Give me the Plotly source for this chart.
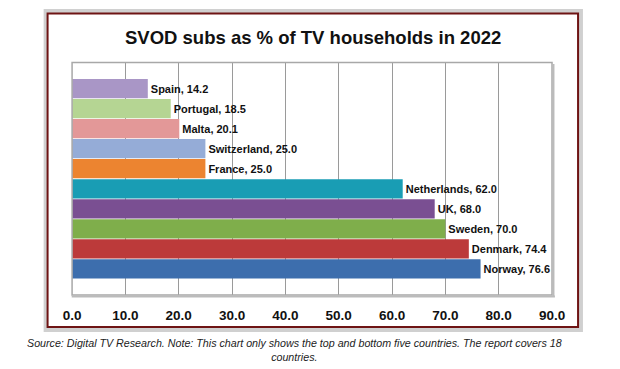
import plotly.graph_objects as go

countries = ["Norway", "Denmark", "Sweden", "UK", "Netherlands",
             "France", "Switzerland", "Malta", "Portugal", "Spain"]
values = [76.6, 74.4, 70.0, 68.0, 62.0, 25.0, 25.0, 20.1, 18.5, 14.2]
colors = ["#3D6EAD", "#BC3A3A", "#7FAE4B", "#7A4F92", "#199DB4",
          "#EC8430", "#95ACD7", "#E39898", "#B5D593", "#A996C6"]
tick_vals = [0, 10, 20, 30, 40, 50, 60, 70, 80, 90]
tick_text = ["0.0", "10.0", "20.0", "30.0", "40.0", "50.0", "60.0", "70.0", "80.0", "90.0"]
title = "SVOD subs as % of TV households in 2022"
source = ("Source: Digital TV Research. Note: This chart only shows the top and bottom five countries. "
          "The report covers 18<br>countries.")

W, H = 620, 369
def px(x): return x / W
def py(y): return 1 - y / H

labels = [f"{c}, {v:.1f}" for c, v in zip(countries, values)]

fig = go.Figure()
fig.add_trace(go.Bar(
    y=list(range(len(countries))), x=values, orientation="h",
    marker=dict(color=colors, line=dict(width=0)),
    width=0.96,
    text=labels, textposition="outside", cliponaxis=False,
    textfont=dict(family="Liberation Sans, Arial", size=11, color="#111", weight="bold"),
    hoverinfo="skip",
))

fig.update_layout(
    width=W, height=H,
    margin=dict(l=0, r=0, t=0, b=0),
    paper_bgcolor="white", plot_bgcolor="white",
    showlegend=False,
    font=dict(family="Liberation Sans, Arial", color="#111"),
    xaxis=dict(domain=[px(65.4), px(563)], range=[0, 90], tickvals=tick_vals, ticktext=tick_text,
               showgrid=True, gridcolor="#9a9a9a", gridwidth=1, zeroline=False,
               showline=False, ticks="", ticklabelstandoff=10,
               tickfont=dict(family="Liberation Sans, Arial", size=13.5, color="#111", weight="bold")),
    yaxis=dict(domain=[py(295), py(62.5)], range=[-1.3, 10.3], showgrid=False, zeroline=False,
               showticklabels=False, ticks="", showline=False),
)

shapes = []
# outer shadow
shapes.append(dict(type="rect", xref="paper", yref="paper",
                   x0=px(38), x1=px(593), y0=py(330), y1=py(11),
                   line=dict(color="rgba(120,120,120,0.35)", width=4), fillcolor="rgba(0,0,0,0)", layer="below"))
# outer border
shapes.append(dict(type="rect", xref="paper", yref="paper",
                   x0=px(40), x1=px(590), y0=py(327), y1=py(13.5),
                   line=dict(color="#6E1414", width=2), fillcolor="rgba(0,0,0,0)"))
# plot area border (3D-ish)
shapes.append(dict(type="rect", xref="paper", yref="paper",
                   x0=px(65.4), x1=px(563), y0=py(295), y1=py(62.5),
                   line=dict(color="#a8a8a8", width=1.5), fillcolor="rgba(0,0,0,0)"))
shapes.append(dict(type="line", xref="paper", yref="paper",
                   x0=px(65), x1=px(566), y0=py(296.5), y1=py(296.5),
                   line=dict(color="#bbbbbb", width=2)))
shapes.append(dict(type="line", xref="paper", yref="paper",
                   x0=px(564.5), x1=px(564.5), y0=py(296), y1=py(64),
                   line=dict(color="#bbbbbb", width=2)))
fig.update_layout(shapes=shapes)

fig.add_annotation(text=f"<b>{title}</b>", xref="paper", yref="paper",
                   x=px(315), y=py(37), xanchor="center", yanchor="middle", showarrow=False,
                   font=dict(family="Liberation Sans, Arial", size=18.5, color="#111"))
fig.add_annotation(text=f"<i>{source}</i>", xref="paper", yref="paper",
                   x=px(296), y=py(350), xanchor="center", yanchor="middle", showarrow=False,
                   align="center",
                   font=dict(family="Liberation Sans, Arial", size=10.7, color="#222"))

fig.write_html("out.html")
